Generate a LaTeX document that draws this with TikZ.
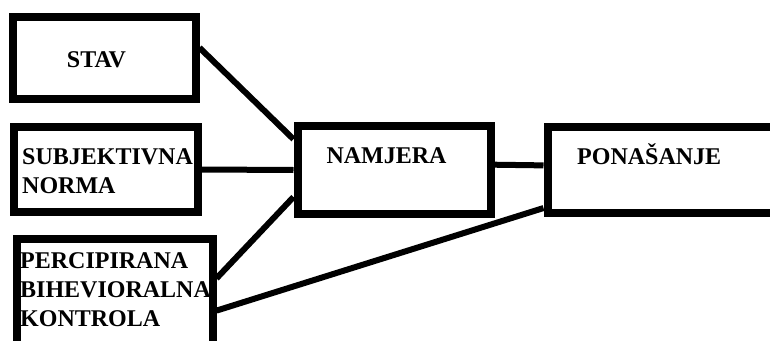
\documentclass[tikz,border=0pt]{standalone}
\usepackage{fontspec}
\setmainfont{Liberation Serif}
\usepackage{tikz}
\usetikzlibrary{positioning}

\begin{document}
\begin{tikzpicture}[
    x=1pt, y=-1pt,
    box/.style={draw=black, line width=8pt, rectangle, inner sep=0pt},
    lbl/.style={inner sep=0pt, align=left, font=\fontsize{24}{29}\selectfont\bfseries},
    link/.style={line width=6pt, black}
]
    \useasboundingbox (0,0) rectangle (770,340);
    \clip (0,0) rectangle (770,340);

    % Boxes
    \node[box, minimum width=183pt, minimum height=82.5pt] (stav) at (104,57.75) {};
    \node[box, minimum width=183.5pt, minimum height=85pt] (subj) at (105.75,169.5) {};
    \node[box, minimum width=195.5pt, minimum height=111pt] (perc) at (114.75,294.5) {};
    \node[box, minimum width=193.5pt, minimum height=88pt] (namj) at (394.25,170) {};
    \node[box, minimum width=242.5pt, minimum height=85.5pt] (pona) at (668.75,169.75) {};

    % Labels
    \node[lbl, anchor=base] (stav-text) at (96.5,67) {STAV};
    \node[lbl, anchor=west] (subj-text) at (22,171) {SUBJEKTIVNA\\NORMA};
    \node[lbl, anchor=west] (perc-text) at (20,289.5) {PERCIPIRANA\\BIHEVIORALNA\\KONTROLA};
    \node[lbl, anchor=base] (namj-text) at (386.5,163) {NAMJERA};
    \node[lbl, anchor=base west] (pona-text) at (577,164) {PONAŠANJE};

    % Connectors
    \draw[link] (stav.6) -- (namj.163);
    \draw[link] (subj.east) -- (namj.west);
    \draw[link] (perc.9) -- (namj.195);
    \draw[link] (perc.351) -- (pona.197);
    \draw[link] (namj.3) -- (pona.178);
\end{tikzpicture}
\end{document}
